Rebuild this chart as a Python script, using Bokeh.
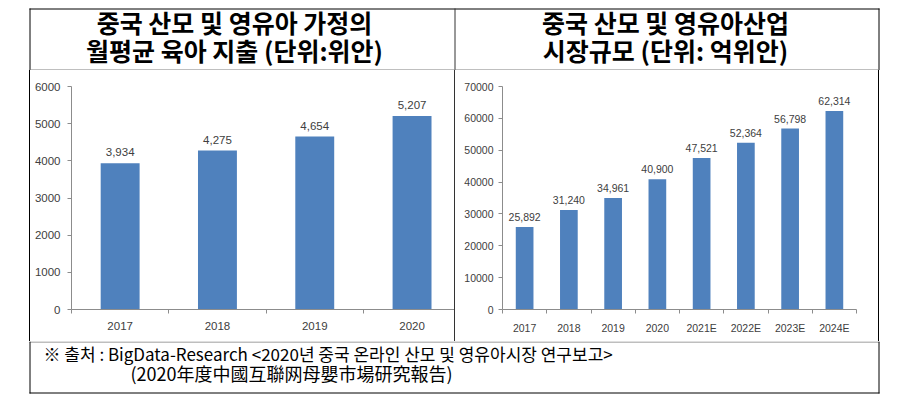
from bokeh.plotting import figure
from bokeh.models import (ColumnDataSource, Range1d, FixedTicker, LabelSet, Spacer)
from bokeh.layouts import row, column
from bokeh.core.properties import value
from bokeh.embed import file_html
from bokeh.resources import INLINE

# ---------------- data ----------------
left_years = ["2017", "2018", "2019", "2020"]
left_spend = [3934, 4275, 4654, 5207]
left_yticks = [0, 1000, 2000, 3000, 4000, 5000, 6000]

right_years = ["2017", "2018", "2019", "2020", "2021E", "2022E", "2023E", "2024E"]
right_market = [25892, 31240, 34961, 40900, 47521, 52364, 56798, 62314]
right_yticks = [0, 10000, 20000, 30000, 40000, 50000, 60000, 70000]

left_title = ["중국 산모 및 영유아 가정의", "월평균 육아 지출 (단위:위안)"]
right_title = ["중국 산모 및 영유아산업", "시장규모 (단위: 억위안)"]
source_line1 = "※ 출처 : BigData-Research <2020년 중국 온라인 산모 및 영유아시장 연구보고>"
source_line2 = "(2020年度中國互聯网母嬰市場研究報告)"

# ---------------- styles ----------------
BAR = "#4F81BD"
AXIS = "#8C8C8C"
LABEL = "#404040"
NUM_FONT = "Liberation Sans"
KR_FONT = "Noto Sans CJK KR"
W = 880


def vline(h, color="#000000"):
    return Spacer(width=1, height=h, styles={"background-color": color})


def blank_fig(w, h, xr, yr):
    f = figure(width=w, height=h, x_range=xr, y_range=yr, min_border=0,
               toolbar_location=None, output_backend="svg",
               x_axis_location=None, y_axis_location=None)
    f.grid.visible = False
    f.outline_line_color = None
    f.background_fill_color = "white"
    f.border_fill_color = "white"
    return f


def bar_chart(w, h, cats, vals, yticks, xend, mb, num_size, ystand, lab_off):
    n = len(cats)
    xs = [i + 1 for i in range(n)]
    src = ColumnDataSource(dict(x=xs, y=vals, lab=[f"{v:,}" for v in vals]))
    f = figure(width=w, height=h, x_range=Range1d(0.5, xend), y_range=Range1d(0, yticks[-1]),
               toolbar_location=None, output_backend="svg",
               min_border_left=mb[0], min_border_right=mb[1],
               min_border_top=mb[2], min_border_bottom=mb[3])
    f.grid.visible = False
    f.outline_line_color = None
    f.background_fill_color = "white"
    f.border_fill_color = "white"
    f.vbar(x="x", top="y", width=0.4, source=src, fill_color=BAR, line_color=None)
    f.add_layout(LabelSet(x="x", y="y", text="lab", source=src, text_align="center",
                          text_baseline="bottom", y_offset=lab_off,
                          text_font=value(NUM_FONT), text_font_size=num_size,
                          text_color=LABEL))
    xa = f.xaxis[0]
    xa.ticker = FixedTicker(ticks=xs, minor_ticks=[i + 0.5 for i in range(n + 1)])
    xa.major_label_overrides = {x: c for x, c in zip(xs, cats)}
    xa.major_tick_line_color = None
    xa.major_tick_out = 0
    xa.major_tick_in = 0
    xa.minor_tick_line_color = AXIS
    xa.minor_tick_out = 4
    xa.minor_tick_in = 0
    xa.major_label_standoff = 8
    ya = f.yaxis[0]
    ya.ticker = FixedTicker(ticks=yticks)
    ya.major_label_overrides = {t: str(t) for t in yticks}
    ya.minor_tick_line_color = None
    ya.major_tick_line_color = AXIS
    ya.major_tick_out = 4
    ya.major_tick_in = 0
    ya.major_label_standoff = ystand
    for a in (xa, ya):
        a.axis_line_color = AXIS
        a.major_label_text_font = NUM_FONT
        a.major_label_text_font_size = num_size
        a.major_label_text_color = LABEL
    return f


# ---------------- title row (page y 0..69) ----------------
tf = blank_fig(W, 70, Range1d(0, W), Range1d(70, 0))
tf.segment(x0=[29], y0=[8.5], x1=[879], y1=[8.5], line_color="#000000", line_width=1)
tf.segment(x0=[29.5, 878.5], y0=[8, 8], x1=[29.5, 878.5], y1=[70, 70],
           line_color="#000000", line_width=1)
tf.segment(x0=[454.5], y0=[8], x1=[454.5], y1=[70], line_color="#333333", line_width=1)
tf.segment(x0=[29], y0=[69.5], x1=[879], y1=[69.5], line_color="#7F7F7F", line_width=1)
tf.text(x=[234, 234], y=[21, 49.5], text=left_title, text_align="center",
        text_baseline="middle", text_font=value(KR_FONT), text_font_style="bold",
        text_font_size="25px", text_color="#000000")
tf.text(x=[665, 665], y=[21, 49.5], text=right_title, text_align="center",
        text_baseline="middle", text_font=value(KR_FONT), text_font_style="bold",
        text_font_size="25px", text_color="#000000")

# ---------------- chart row (page y 70..340) ----------------
cl = bar_chart(424, 271, left_years, left_spend, left_yticks, 0.5 + 383 / 97.3,
               (41, 0, 16, 32), "11.5px", 7, 7)
cr = bar_chart(423, 271, right_years, right_market, right_yticks, 8.5,
               (47, 22, 13, 29), "10.5px", 5, 6)

charts = row(Spacer(width=29, height=271), vline(271), cl, vline(271, "#333333"), cr,
             vline(271), spacing=0)

# ---------------- footer row (page y 341..400) ----------------
ft = blank_fig(W, 60, Range1d(0, W), Range1d(401, 341))
ft.segment(x0=[29], y0=[341.5], x1=[879], y1=[341.5], line_color="#7F7F7F", line_width=1)
ft.segment(x0=[29.5, 878.5], y0=[341, 341], x1=[29.5, 878.5], y1=[393, 393],
           line_color="#000000", line_width=1)
ft.segment(x0=[29], y0=[392.5], x1=[879], y1=[392.5], line_color="#000000", line_width=1)
ft.text(x=[43], y=[353], text=[source_line1], text_align="left",
        text_baseline="middle", text_font=value(KR_FONT), text_font_size="17px",
        text_color="#000000")
ft.text(x=[130], y=[372], text=[source_line2], text_align="left",
        text_baseline="middle", text_font=value(KR_FONT), text_font_size="18px",
        text_color="#000000")

page = column(tf, charts, ft, spacing=0)

open("out.html", "w").write(file_html(page, INLINE))
